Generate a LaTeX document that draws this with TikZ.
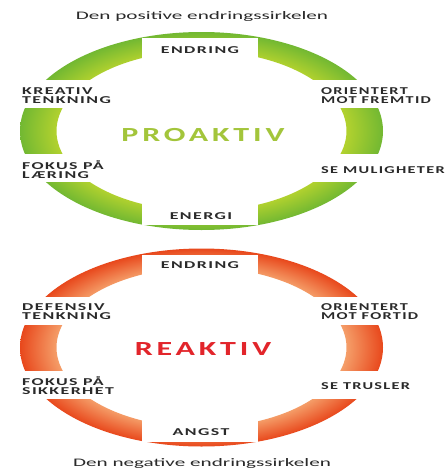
\documentclass[tikz,border=0pt]{standalone}
\usepackage{fontspec}
\usepackage{graphicx}
\setmainfont{Carlito}
\newfontfamily\labfam{Carlito}[LetterSpace=8]
\newfontfamily\bigfam{Carlito}[LetterSpace=12]
\definecolor{gin}{HTML}{B8D42E}
\definecolor{gout}{HTML}{72B832}
\definecolor{rin}{HTML}{F6A670}
\definecolor{rout}{HTML}{E8481C}
\definecolor{txt}{HTML}{2A2A2A}
\definecolor{pro}{HTML}{A3C53B}
\definecolor{rea}{HTML}{E2252B}
\pgfdeclareradialshading{greenring}{\pgfpoint{0bp}{0bp}}{color(0bp)=(gin); color(19.5bp)=(gin); color(25bp)=(gout); color(50bp)=(gout)}
\pgfdeclareradialshading{redring}{\pgfpoint{0bp}{0bp}}{color(0bp)=(rin); color(19.5bp)=(rin); color(25bp)=(rout); color(50bp)=(rout)}
\newcommand{\sx}[1]{\scalebox{1.7}[1]{#1}}
\newcommand{\sxr}[1]{\scalebox{1.55}[1]{#1}}
\newcommand{\sxb}[1]{\scalebox{1.6}[1]{#1}}
\newcommand{\sxt}[1]{\scalebox{1.84}[1]{#1}}
\begin{document}
\begin{tikzpicture}[x=1pt,y=-1pt,
  lab/.style={font=\labfam\bfseries\fontsize{10.5}{9.5}\selectfont, text=txt, inner sep=0pt, align=left},
  mid/.style={font=\labfam\bfseries\fontsize{10.5}{9.5}\selectfont, text=txt, inner sep=0pt},
  gap/.style={fill=white, draw=none},
  big/.style={font=\bigfam\bfseries\fontsize{20}{22}\selectfont, inner sep=0pt},
  ttl/.style={font=\fontsize{11.5}{13}\selectfont, text=txt, inner sep=0pt}]
\useasboundingbox (0,0) rectangle (446,469);
\fill[white] (0,0) rectangle (446,469);
% green ring
\shade[shading=greenring, even odd rule] (201.5,131) ellipse [x radius=181.5pt, y radius=99pt] (201.5,131) ellipse [x radius=145pt, y radius=80pt];
\fill[gap] (142,38) rectangle (258,72);
\fill[gap] (142,191) rectangle (258,225);
\fill[gap] (0,80) rectangle (130,108);
\fill[gap] (0,154) rectangle (130,182);
\fill[gap] (272,80) rectangle (446,108);
\fill[gap] (272,154) rectangle (446,182);
% red ring
\shade[shading=redring, even odd rule] (201.5,347.5) ellipse [x radius=181.5pt, y radius=99pt] (201.5,347.5) ellipse [x radius=145pt, y radius=80pt];
\fill[gap] (142,254.5) rectangle (258,288.5);
\fill[gap] (142,407.5) rectangle (258,441.5);
\fill[gap] (0,296.5) rectangle (130,324.5);
\fill[gap] (0,370.5) rectangle (130,398.5);
\fill[gap] (272,296.5) rectangle (446,324.5);
\fill[gap] (272,370.5) rectangle (446,398.5);
% titles
\node[ttl] (t1) at (202,16) {\sxt{Den positive endringssirkelen}};
\node[ttl] (t2) at (202,463) {\sxt{Den negative endringssirkelen}};
% green labels
\node[mid] (gtop) at (200,50) {\sx{ENDRING}};
\node[mid] (gbot) at (201,216) {\sx{ENERGI}};
\node[big, text=pro] (gmid) at (203,135) {\sxb{PROAKTIV}};
\node[lab, anchor=west] (gl1) at (22,95.5) {\sx{KREATIV}\\\sx{TENKNING}};
\node[lab, anchor=west] (gl2) at (22,169.5) {\sx{FOKUS PÅ}\\\sx{LÆRING}};
\node[lab, anchor=west] (gr1) at (321,95.5) {\sxr{ORIENTERT}\\\sxr{MOT FREMTID}};
\node[lab, anchor=west] (gr2) at (321,170) {\sxr{SE MULIGHETER}};
% red labels
\node[mid] (rtop) at (200,265) {\sx{ENDRING}};
\node[mid] (rbot) at (201,432) {\sx{ANGST}};
\node[big, text=rea] (rmid) at (203,349) {\sxb{REAKTIV}};
\node[lab, anchor=west] (rl1) at (22,311.5) {\sx{DEFENSIV}\\\sx{TENKNING}};
\node[lab, anchor=west] (rl2) at (22,385.5) {\sx{FOKUS PÅ}\\\sx{SIKKERHET}};
\node[lab, anchor=west] (rr1) at (321,311.5) {\sxr{ORIENTERT}\\\sxr{MOT FORTID}};
\node[lab, anchor=west] (rr2) at (321,386) {\sxr{SE TRUSLER}};
\end{tikzpicture}
\end{document}
